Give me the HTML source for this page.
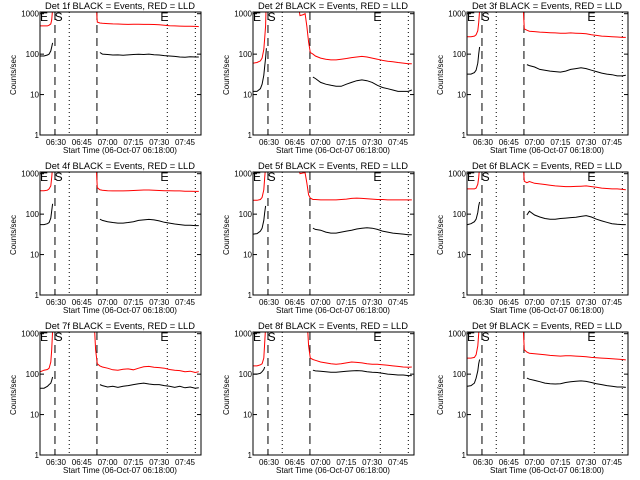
<!DOCTYPE html>
<html><head><meta charset="utf-8"><style>
html,body{margin:0;padding:0;background:#fff;}
svg{display:block;}
text{font-family:"Liberation Sans",sans-serif;fill:#000;}
</style></head><body>
<svg id="chart" width="640" height="480" viewBox="0 0 640 480" xmlns="http://www.w3.org/2000/svg"></svg>
<script>
// sample times, minutes after 06:00
const minutes = [21,23,25,26,27,27.5,28,28.5, 46,48,50,51,52,53,54,55.5, 57,60,63,66,69,72,75,78,81,84,87,90,93,96,99,102,105,108,111,113];
const N = null;
const detectorNames = ["1f","2f","3f","4f","5f","6f","7f","8f","9f"];
const tickLabels = ["06:30","06:45","07:00","07:15","07:30","07:45"];
const tickMinutes = [30,45,60,75,90,105];
const yTickValues = [1,10,100,1000];
const yTickLabels = ["1","10","100","1000"];
const dashedMarks = [29.4,53.8];
const dottedMarks = [37.7,94.7,111];
const markerLetters = ["E","S","E"];
const markerMinutes = [23,31.5,93];

const red1 = [500,500,500,520,560,700,1300,3000, 3000,3000,3000,3000,3000,3000,620,590, 580,570,560,555,550,545,550,550,545,545,540,535,520,505,500,495,490,490,485,480];
const black1 = [90,90,95,100,120,150,190,N, N,N,N,N,N,N,N,110, 100,98,95,96,94,96,98,99,98,100,97,95,92,90,88,85,84,86,85,85];
const red2 = [60,62,68,80,130,250,500,3000, 3000,900,950,1000,500,200,110,100, 90,80,75,72,72,75,78,82,85,88,85,80,75,70,67,65,62,60,58,58];
const black2 = [12,12,14,18,30,50,80,140, N,N,N,N,N,N,N,27, 25,20,18,17,16,16,18,20,22,23,22,20,17,15,14,13,12,12,12,13];
const red3 = [270,270,280,300,380,600,1200,3000, 3000,3000,3000,3000,3000,3000,420,390, 370,360,350,345,340,335,330,330,335,330,325,320,300,290,280,275,270,265,260,260];
const black3 = [32,32,35,40,60,100,150,N, N,N,N,N,N,N,N,55, 52,48,42,40,38,37,36,38,42,44,46,44,40,37,34,32,31,29,29,30];
const red4 = [380,380,390,420,500,800,1500,3000, 3000,3000,3000,3000,3000,3000,450,400, 390,380,375,375,375,380,385,390,395,395,390,385,380,380,375,375,370,370,365,365];
const black4 = [55,55,58,62,80,120,180,N, N,N,N,N,N,N,N,75, 70,65,62,60,60,62,65,70,72,74,72,68,63,60,57,55,53,53,52,52];
const red5 = [220,220,230,260,400,800,1500,3000, 3000,1000,1050,1050,600,300,250,230, 230,225,225,225,225,230,235,245,250,245,240,235,230,230,225,225,225,225,225,225];
const black5 = [32,33,38,45,70,110,160,N, N,N,N,N,N,N,N,45, 42,40,36,34,34,36,38,40,43,45,46,45,42,38,36,34,33,32,31,31];
const red6 = [420,420,420,440,550,800,1500,3000, 3000,3000,3000,3000,3000,3000,650,600, 640,580,560,540,520,500,490,480,480,485,490,500,480,460,440,430,420,420,410,400];
const black6 = [55,58,65,75,110,160,200,N, N,N,N,N,N,N,N,95, 118,95,85,78,75,75,78,80,82,84,88,92,85,75,68,63,58,56,55,55];
const red7 = [115,125,130,140,200,400,1200,3000, 3000,3000,3000,3000,3000,400,180,160, 150,140,128,125,132,135,128,140,152,155,148,145,140,130,125,122,115,118,110,115];
const black7 = [45,45,50,55,60,70,85,N, N,N,N,N,N,N,N,55, 52,48,50,47,50,52,55,58,60,57,55,55,52,50,47,50,46,48,45,46];
const red8 = [160,160,170,180,250,600,1500,3000, 3000,3000,3000,3000,3000,500,250,230, 220,200,190,180,175,180,190,200,195,190,180,175,175,170,165,160,155,150,148,150];
const black8 = [100,100,105,115,130,150,N,N, N,N,N,N,N,N,N,125, 120,118,115,112,112,115,118,120,122,120,115,112,110,105,100,98,95,95,92,92];
const red9 = [250,250,260,300,500,1000,3000,3000, 3000,3000,3000,3000,3000,3000,400,350, 330,320,310,300,290,285,280,285,285,280,275,270,260,255,250,245,240,235,230,225];
const black9 = [50,52,60,80,120,180,230,N, N,N,N,N,N,N,N,80, 75,70,65,60,58,57,58,62,65,67,68,66,62,58,55,52,50,48,48,47];
const redSeries = [red1,red2,red3,red4,red5,red6,red7,red8,red9];
const blackSeries = [black1,black2,black3,black4,black5,black6,black7,black8,black9];

const NS = "http://www.w3.org/2000/svg";
const svg = document.getElementById("chart");
const L = 40, R = 201, T = 12, B = 135;
function xs(m){ return 56 + (m - 30) * 1.72; }
function ys(v){ return 135 - Math.log10(v) * 40.43; }
function mk(tag, attrs, parent){
  const e = document.createElementNS(NS, tag);
  for (const k in attrs) e.setAttribute(k, attrs[k]);
  parent.appendChild(e);
  return e;
}
function txt(parent, x, y, s, size, anchor, extra){
  const t = mk("text", Object.assign({x:x, y:y, "font-size":size, "text-anchor":anchor}, extra || {}), parent);
  t.textContent = s;
  return t;
}
function drawSeries(g, vals, color, name){
  let pts = [];
  const flush = () => {
    if (pts.length > 1) {
      const pl = mk("polyline", {points: pts.join(" "), fill: "none", stroke: color, "stroke-width": 1, "clip-path": g.clip}, g.el);
      
      
    }
    pts = [];
  };
  for (let i = 0; i < minutes.length; i++) {
    if (vals[i] === null) { flush(); continue; }
    pts.push(xs(minutes[i]).toFixed(1) + "," + ys(vals[i]).toFixed(1));
  }
  flush();
}
for (let p = 0; p < 9; p++) {
  const col = p % 3, row = Math.floor(p / 3);
  const ox = Math.round(col * 213.33), oy = row * 160;
  const g = mk("g", {transform: "translate(" + ox + "," + oy + ")"}, svg);
  
  
  const cp = mk("clipPath", {id: "clip" + p}, g);
  mk("rect", {x: L, y: T, width: R - L, height: B - T}, cp);
  const ctx = {el: g, clip: "url(#clip" + p + ")"};

  const title = txt(g, 120, 9, "Det " + detectorNames[p] + " BLACK = Events, RED = LLD", 9.5, "middle", {textLength: 150, lengthAdjust: "spacingAndGlyphs"});
  
  

  dashedMarks.forEach(m => {
    const l = mk("line", {x1: xs(m), x2: xs(m), y1: T, y2: B, stroke: "#000", "stroke-width": 1, "stroke-dasharray": "8,5"}, g);
    
    
  });
  dottedMarks.forEach(m => {
    const l = mk("line", {x1: xs(m), x2: xs(m), y1: T, y2: B, stroke: "#000", "stroke-width": 1, "stroke-dasharray": "1,3"}, g);
    
    
  });
  markerLetters.forEach((s, i) => {
    const t = txt(g, xs(markerMinutes[i]), 21, s, 12, "middle");
    
    
  });

  drawSeries(ctx, redSeries[p], "#ff0000", "red-lld-line");
  drawSeries(ctx, blackSeries[p], "#000000", "black-events-line");

  const box = mk("rect", {x: L, y: T, width: R - L, height: B - T, fill: "none", stroke: "#000", "stroke-width": 1}, g);
  
  

  yTickValues.forEach((v, i) => {
    const y = ys(v);
    mk("line", {x1: L, x2: L + 4, y1: y, y2: y, stroke: "#000"}, g);
    mk("line", {x1: R - 4, x2: R, y1: y, y2: y, stroke: "#000"}, g);
    const t = txt(g, L - 1, y + 3, yTickLabels[i], 8, "end");
    
    
  });
  tickMinutes.forEach((m, i) => {
    const t = txt(g, xs(m), 145, tickLabels[i], 8, "middle");
    
    
  });
  const xt = txt(g, 120, 153, "Start Time (06-Oct-07 06:18:00)", 8.5, "middle", {textLength: 114, lengthAdjust: "spacingAndGlyphs"});
  
  
  const yt = txt(g, 0, 0, "Counts/sec", 8, "middle", {transform: "translate(16,75) rotate(-90)"});
  
  
}
</script>
</body></html>
